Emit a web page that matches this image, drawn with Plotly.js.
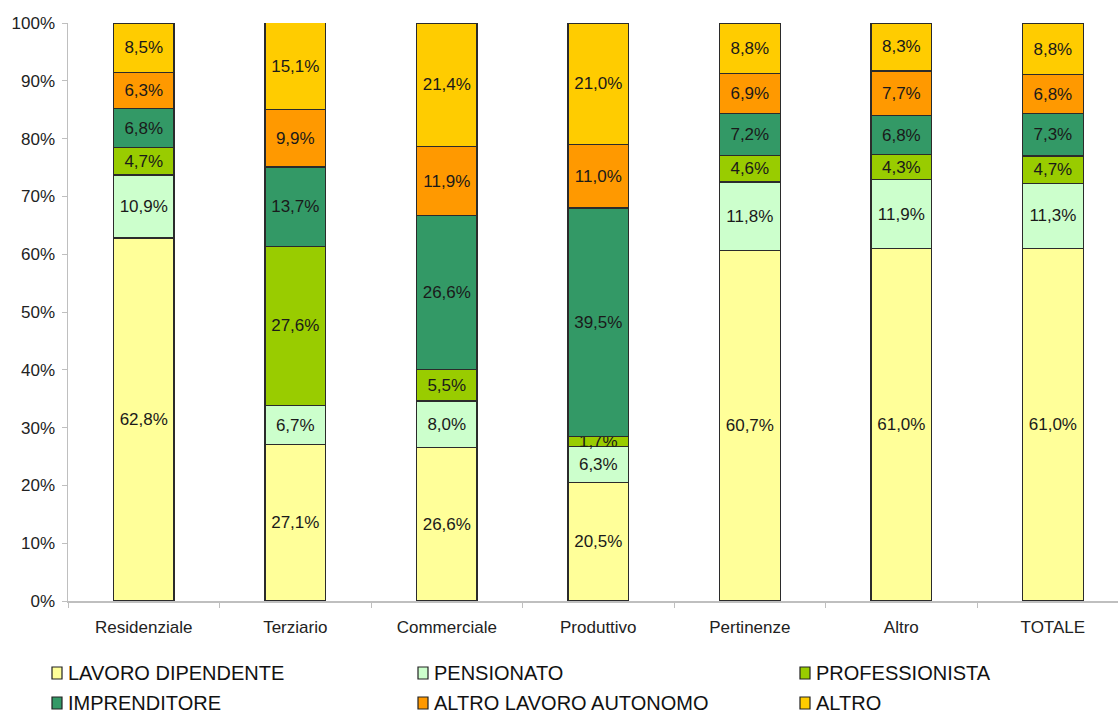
<!DOCTYPE html>
<html>
<head>
<meta charset="utf-8">
<script src="https://cdn.plot.ly/plotly-3.0.1.min.js"></script>
<style>
  html, body { margin: 0; padding: 0; background: #fff; }
  #chart { width: 1118px; height: 715px; }
</style>
</head>
<body>
<div id="chart"></div>
<script>
// Categorie di immobili
const categories = ["Residenziale", "Terziario", "Commerciale", "Produttivo", "Pertinenze", "Altro", "TOTALE"];

// Quote percentuali per condizione professionale
const lavoroDipendente = [62.8, 27.1, 26.6, 20.5, 60.7, 61.0, 61.0];
const pensionato       = [10.9, 6.7, 8.0, 6.3, 11.8, 11.9, 11.3];
const professionista   = [4.7, 27.6, 5.5, 1.7, 4.6, 4.3, 4.7];
const imprenditore     = [6.8, 13.7, 26.6, 39.5, 7.2, 6.8, 7.3];
const altroAutonomo    = [6.3, 9.9, 11.9, 11.0, 6.9, 7.7, 6.8];
const altro            = [8.5, 15.1, 21.4, 21.0, 8.8, 8.3, 8.8];

const yTickVals = [0, 10, 20, 30, 40, 50, 60, 70, 80, 90, 100];
const yTickText = ["0%", "10%", "20%", "30%", "40%", "50%", "60%", "70%", "80%", "90%", "100%"];

const series = [
  { name: "LAVORO DIPENDENTE",     values: lavoroDipendente, color: "#FFFF99" },
  { name: "PENSIONATO",            values: pensionato,       color: "#CCFFCC" },
  { name: "PROFESSIONISTA",        values: professionista,   color: "#99CC00" },
  { name: "IMPRENDITORE",          values: imprenditore,     color: "#339966" },
  { name: "ALTRO LAVORO AUTONOMO", values: altroAutonomo,    color: "#FF9900" },
  { name: "ALTRO",                 values: altro,            color: "#FFCC00" }
];

const FONT = "Liberation Sans, Arial, sans-serif";
const W = 1118, H = 715;
const M = { l: 68, r: 0, t: 23, b: 114 };
const plotW = W - M.l - M.r, plotH = H - M.t - M.b;
// pixel -> paper coordinates
const px = x => (x - M.l) / plotW;
const py = y => (H - M.b - y) / plotH;

const fmt = v => v.toFixed(1).replace(".", ",") + "%";

const traces = series.map(s => ({
  type: "bar",
  name: s.name,
  x: categories,
  y: s.values,
  width: 0.4,
  text: s.values.map(fmt),
  textposition: "inside",
  insidetextanchor: "middle",
  textangle: 0,
  textfont: { family: FONT, size: 17, color: "#1a1a1a" },
  marker: { color: s.color, line: { color: "#2b2b2b", width: 1.2 } },
  showlegend: false,
  hoverinfo: "skip"
}));

// Legenda a tre colonne su due righe
const legendCols = [52, 418, 800];
const legendRows = [673, 703];
const shapes = [];
const annotations = [];
series.forEach((s, i) => {
  const cx = legendCols[i % 3];
  const cy = legendRows[Math.floor(i / 3)];
  shapes.push({
    type: "rect", xref: "paper", yref: "paper",
    x0: px(cx), x1: px(cx + 10), y0: py(cy + 6), y1: py(cy - 6),
    fillcolor: s.color, line: { color: "#222", width: 1.2 }
  });
  annotations.push({
    xref: "paper", yref: "paper",
    x: px(cx + 14), y: py(cy), xanchor: "left", yanchor: "middle",
    text: s.name, showarrow: false,
    font: { family: FONT, size: 20, color: "#111" }
  });
});

const layout = {
  width: W,
  height: H,
  barmode: "stack",
  paper_bgcolor: "#ffffff",
  plot_bgcolor: "#ffffff",
  margin: M,
  font: { family: FONT, size: 17, color: "#222" },
  uniformtext: { minsize: 17, mode: "show" },
  showlegend: false,
  shapes: shapes,
  annotations: annotations,
  xaxis: {
    type: "category",
    range: [-0.5, 6.43],
    showline: true,
    linecolor: "#bfbfbf",
    linewidth: 1.5,
    ticks: "outside",
    tickson: "boundaries",
    ticklen: 5,
    tickcolor: "#bfbfbf",
    ticklabelstandoff: 10,
    showgrid: false,
    zeroline: false,
    tickfont: { family: FONT, size: 17, color: "#222" }
  },
  yaxis: {
    range: [0, 100],
    tickvals: yTickVals,
    ticktext: yTickText,
    showline: true,
    linecolor: "#bfbfbf",
    linewidth: 1.5,
    ticks: "outside",
    ticklen: 5,
    tickcolor: "#bfbfbf",
    ticklabelstandoff: 3,
    showgrid: false,
    zeroline: false,
    tickfont: { family: FONT, size: 17, color: "#222" }
  }
};

Plotly.newPlot("chart", traces, layout, { displayModeBar: false, staticPlot: true });
</script>
</body>
</html>
